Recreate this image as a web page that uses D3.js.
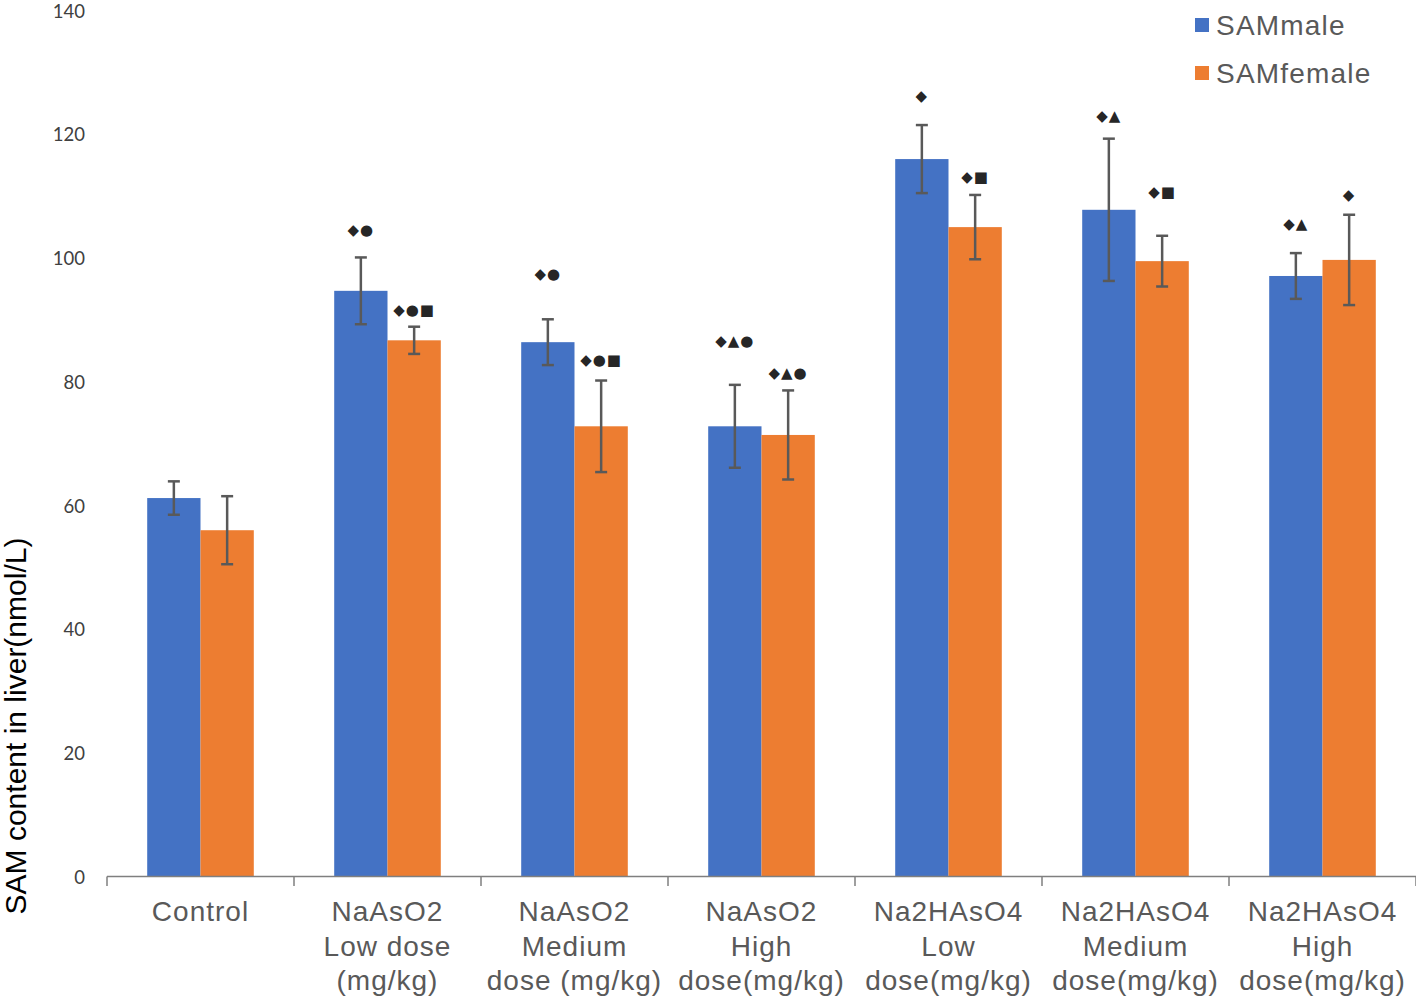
<!DOCTYPE html>
<html><head><meta charset="utf-8">
<script src="https://cdn.jsdelivr.net/npm/d3@7"></script>
<style>body{margin:0;background:#fff}svg{display:block}</style>
</head><body>
<svg id="c" width="1416" height="1001"></svg>
<script>
const categories = [
  ["Control"],
  ["NaAsO2","Low dose","(mg/kg)"],
  ["NaAsO2","Medium","dose (mg/kg)"],
  ["NaAsO2","High","dose(mg/kg)"],
  ["Na2HAsO4","Low","dose(mg/kg)"],
  ["Na2HAsO4","Medium","dose(mg/kg)"],
  ["Na2HAsO4","High","dose(mg/kg)"]
];
const seriesNames = ["SAMmale","SAMfemale"];
const maleValues   = [61.1, 94.6, 86.3, 72.7, 115.9, 107.7, 97.0];
const maleErrors   = [2.7, 5.4, 3.7, 6.7, 5.5, 11.5, 3.7];
const femaleValues = [55.9, 86.6, 72.7, 71.3, 104.9, 99.4, 99.6];
const femaleErrors = [5.5, 2.2, 7.4, 7.2, 5.2, 4.1, 7.3];
const maleMarks    = ["", "◆●", "◆●", "◆▲●", "◆", "◆▲", "◆▲"];
const femaleMarks  = ["", "◆●■", "◆●■", "◆▲●", "◆■", "◆■", "◆"];
const maleMarkY    = [0, 104.4, 97.3, 86.6, 126.1, 122.9, 105.4];
const femaleMarkY  = [0, 91.5, 83.4, 81.3, 113.0, 110.6, 110.2];
const yTicks = [0, 20, 40, 60, 80, 100, 120, 140];
const yTitle = "SAM content in liver(nmol/L)";

const colors = ["#4472C4", "#ED7D31"];
const svg = d3.select("#c");
const x0 = d3.scaleBand().domain(d3.range(categories.length)).range([107, 1416]).paddingInner(0.43).paddingOuter(0.215);
const x1 = d3.scaleBand().domain([0,1]).range([0, x0.bandwidth()]);
const y = d3.scaleLinear().domain([0,140]).range([876, 10]);

const series = [
  {vals: maleValues, errs: maleErrors, marks: maleMarks, my: maleMarkY},
  {vals: femaleValues, errs: femaleErrors, marks: femaleMarks, my: femaleMarkY}
];

// y tick labels
svg.append("g").selectAll("text").data(yTicks).join("text")
  .attr("x", 85).attr("y", d => y(d) + 1).attr("dy", "0.36em")
  .attr("text-anchor", "end").attr("font-family", "Lato, 'Open Sans', sans-serif")
  .attr("font-size", 18.5).attr("fill", "#404040").text(d => d);

// y title
svg.append("text").attr("transform", "translate(26,726) rotate(-90)")
  .attr("text-anchor", "middle").attr("font-family", "'Liberation Sans', Arial, sans-serif")
  .attr("font-size", 30).attr("fill", "#000").text(yTitle);

// bars
series.forEach((s, si) => {
  const g = svg.append("g");
  g.selectAll("rect").data(s.vals).join("rect")
    .attr("x", (d,i) => x0(i) + x1(si)).attr("width", x1.bandwidth())
    .attr("y", d => y(d)).attr("height", d => y(0) - y(d))
    .attr("fill", colors[si]);
});

// error bars
series.forEach((s, si) => {
  const g = svg.append("g").attr("stroke", "#595959").attr("stroke-width", 2.5);
  s.vals.forEach((v, i) => {
    const cx = x0(i) + x1(si) + x1.bandwidth()/2;
    const e = s.errs[i];
    g.append("line").attr("x1", cx).attr("x2", cx).attr("y1", y(v+e)).attr("y2", y(v-e));
    g.append("line").attr("x1", cx-6).attr("x2", cx+6).attr("y1", y(v+e)).attr("y2", y(v+e));
    g.append("line").attr("x1", cx-6).attr("x2", cx+6).attr("y1", y(v-e)).attr("y2", y(v-e));
  });
  // significance marks
  svg.append("g").selectAll("text").data(s.marks).join("text")
    .attr("x", (d,i) => x0(i) + x1(si) + x1.bandwidth()/2)
    .attr("y", (d,i) => y(s.my[i])).attr("dy", "0.35em")
    .attr("text-anchor", "middle").attr("font-family", "'DejaVu Sans', sans-serif")
    .attr("font-size", 15).attr("fill", "#262626").attr("letter-spacing", 1).text(d => d);
});

// x axis
const ax = svg.append("g").attr("stroke", "#7f7f7f").attr("stroke-width", 1.5);
ax.append("line").attr("x1", 107).attr("x2", 1416).attr("y1", 876.5).attr("y2", 876.5);
const bounds = d3.range(categories.length + 1).map(i => 107 + i * x0.step());
ax.selectAll("line.t").data(bounds).join("line").attr("class","t")
  .attr("x1", d => d).attr("x2", d => d).attr("y1", 876.5).attr("y2", 886);

// x labels
const xl = svg.append("g");
categories.forEach((lines, i) => {
  const cx = x0(i) + x0.bandwidth()/2;
  const t = xl.append("text").attr("x", cx).attr("y", 921)
    .attr("text-anchor", "middle").attr("font-family", "'Liberation Sans', Arial, sans-serif")
    .attr("font-size", 28).attr("letter-spacing", 1).attr("fill", "#595959");
  lines.forEach((ln, k) => t.append("tspan").attr("x", cx).attr("y", 921 + k*34.5).text(ln));
});

// legend
const lg = svg.append("g");
seriesNames.forEach((n, i) => {
  lg.append("rect").attr("x", 1195).attr("y", 18 + i*48).attr("width", 14).attr("height", 14).attr("fill", colors[i]);
  lg.append("text").attr("x", 1216).attr("y", 25 + i*48).attr("dy", "0.35em")
    .attr("font-family", "'Liberation Sans', Arial, sans-serif").attr("font-size", 28).attr("letter-spacing", 1.2)
    .attr("fill", "#595959").text(n);
});
</script>
</body></html>
